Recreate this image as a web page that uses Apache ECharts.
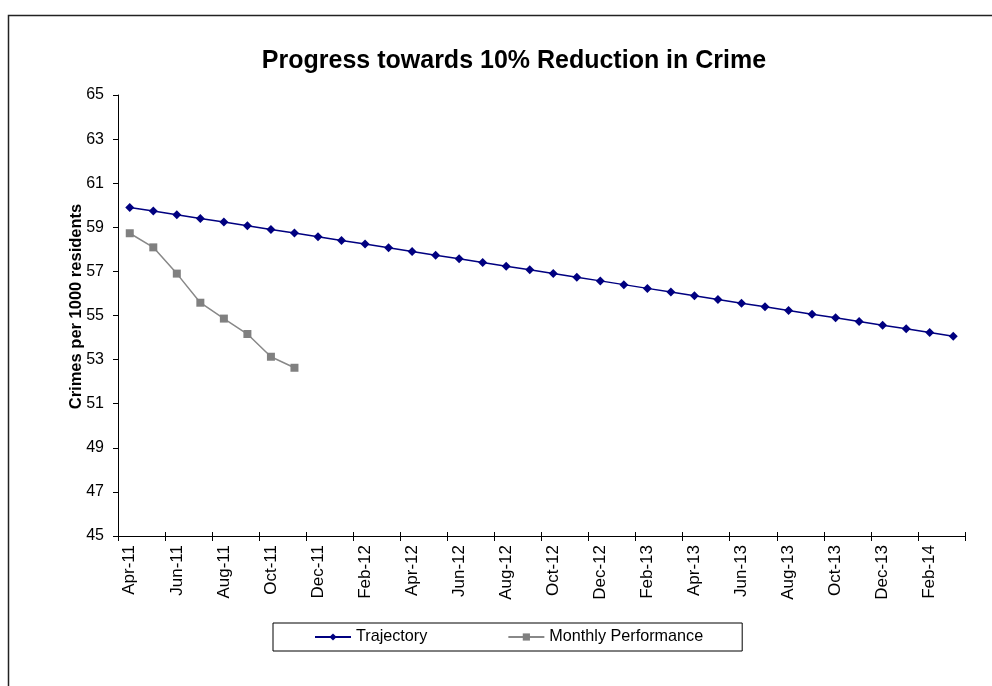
<!DOCTYPE html>
<html>
<head>
<meta charset="utf-8">
<script src="https://cdn.jsdelivr.net/npm/echarts@6/dist/echarts.min.js"></script>
<style>
  html, body { margin: 0; padding: 0; background: #fff; }
  #chart { width: 992px; height: 686px; }
</style>
</head>
<body>
<div id="chart"></div>
<script>
// Months from April 2011 to March 2014
const months = [
  'Apr-11','May-11','Jun-11','Jul-11','Aug-11','Sep-11','Oct-11','Nov-11','Dec-11','Jan-12','Feb-12','Mar-12',
  'Apr-12','May-12','Jun-12','Jul-12','Aug-12','Sep-12','Oct-12','Nov-12','Dec-12','Jan-13','Feb-13','Mar-13',
  'Apr-13','May-13','Jun-13','Jul-13','Aug-13','Sep-13','Oct-13','Nov-13','Dec-13','Jan-14','Feb-14','Mar-14'
];

// Planned path to a 10% reduction (crimes per 1000 residents)
const trajectory = [
  59.90, 59.74, 59.57, 59.40, 59.24, 59.07, 58.90, 58.74, 58.57, 58.40, 58.24, 58.07,
  57.90, 57.73, 57.57, 57.40, 57.23, 57.07, 56.90, 56.73, 56.57, 56.40, 56.23, 56.07,
  55.90, 55.73, 55.56, 55.40, 55.23, 55.06, 54.90, 54.73, 54.56, 54.40, 54.23, 54.06
];

// Actual monthly figures recorded so far
const monthlyPerformance = [58.73, 58.09, 56.90, 55.58, 54.86, 54.16, 53.13, 52.63];

// Value axis range
const yMin = 45, yMax = 65, yStep = 2;

const chart = echarts.init(document.getElementById('chart'));
const font = 'Liberation Sans, Arial, sans-serif';

chart.setOption({
  backgroundColor: '#fff',
  animation: false,
  textStyle: { fontFamily: font },
  title: {
    text: 'Progress towards 10% Reduction in Crime',
    left: 509,
    textAlign: 'center',
    top: 44,
    textStyle: { fontFamily: font, fontSize: 25, fontWeight: 'bold', color: '#000' }
  },
  graphic: [{
    type: 'rect',
    shape: { x: 8.5, y: 15.5, width: 1000, height: 700 },
    style: { fill: null, stroke: '#222', lineWidth: 1.5 },
    silent: true
  }],
  grid: { left: 118, right: 27, top: 95, bottom: 150, containLabel: false },
  legend: {
    left: 273,
    top: 623,
    padding: [6, 39, 6, 41],
    itemGap: 80,
    itemWidth: 36,
    itemHeight: 9,
    borderColor: '#000',
    borderWidth: 1,
    textStyle: { fontFamily: font, fontSize: 16.2, color: '#000' },
    data: ['Trajectory', 'Monthly Performance']
  },
  xAxis: [
    {
      type: 'category',
      data: months,
      boundaryGap: true,
      axisLine: { lineStyle: { color: '#000', width: 1 } },
      axisTick: { show: true, interval: 1, length: 5, lineStyle: { color: '#000' } },
      axisLabel: {
        interval: 1,
        rotate: 90,
        margin: 9,
        fontFamily: font,
        fontSize: 17,
        color: '#000'
      },
      splitLine: { show: false }
    },
    {
      // upper half of the crossing tick marks
      type: 'category',
      data: months,
      position: 'bottom',
      boundaryGap: true,
      axisLine: { show: false },
      axisTick: { show: true, inside: true, interval: 1, length: 4, lineStyle: { color: '#000' } },
      axisLabel: { show: false },
      splitLine: { show: false }
    }
  ],
  yAxis: {
    type: 'value',
    min: yMin,
    max: yMax,
    interval: yStep,
    name: 'Crimes per 1000 residents',
    nameLocation: 'middle',
    nameGap: 33,
    nameMoveOverlap: false,
    nameTextStyle: {
      fontFamily: font, fontSize: 16.5, fontWeight: 'bold', color: '#000',
      padding: [0, 0, 0, 18]
    },
    axisLine: { show: true, lineStyle: { color: '#000', width: 1 } },
    axisTick: { show: true, length: 5, lineStyle: { color: '#000' } },
    axisLabel: { margin: 14, fontFamily: font, fontSize: 16, color: '#000' },
    splitLine: { show: false }
  },
  series: [
    {
      name: 'Trajectory',
      type: 'line',
      data: trajectory,
      symbol: 'diamond',
      symbolSize: 9,
      showAllSymbol: true,
      itemStyle: { color: '#000080' },
      lineStyle: { color: '#000080', width: 1.5 }
    },
    {
      name: 'Monthly Performance',
      type: 'line',
      data: monthlyPerformance,
      symbol: 'rect',
      symbolSize: 8,
      showAllSymbol: true,
      itemStyle: { color: '#808080' },
      lineStyle: { color: '#888888', width: 1.5 }
    }
  ]
});
</script>
</body>
</html>
